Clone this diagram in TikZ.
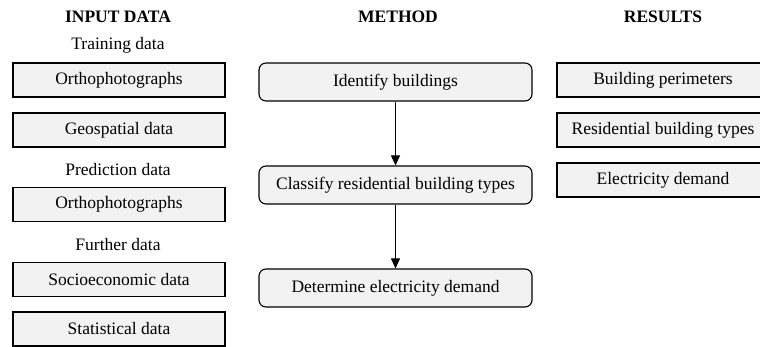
\documentclass[tikz,border=0pt]{standalone}
\usepackage{fontspec}
\setmainfont{Liberation Serif}
\usetikzlibrary{arrows.meta}
\tikzstyle{databox} = [rectangle, draw=black, line width=1.1pt, fill=gray!10, minimum width=212pt, minimum height=34pt, inner sep=0pt, text centered]
\tikzstyle{methodbox} = [rectangle, rounded corners=7pt, draw=black, line width=1.1pt, fill=gray!10, minimum width=273pt, minimum height=38pt, inner sep=0pt, text centered]
\tikzstyle{header} = [font=\fontsize{17.5}{20}\selectfont\bfseries]
\tikzstyle{arrow} = [line width=0.8pt,-{Triangle[length=10pt,width=9pt]}]

\begin{document}
\begin{tikzpicture}[x=1pt, y=1pt, font=\fontsize{17.5}{20}\selectfont]
	    \useasboundingbox (0,0) rectangle (760,-347);

	    % headers
	    \node[header] (hin) at (118,-17) {INPUT DATA};
	    \node[header] (hmeth) at (398,-17) {METHOD};
	    \node[header] (hres) at (663,-17) {RESULTS};

	    % input data
	    \node (train) at (118,-45) {Training data};
	    \node[databox] (ortho1) at (119,-80) {Orthophotographs};
	    \node[databox] (geo) at (119,-130) {Geospatial data};
	    \node (pred) at (118,-170) {Prediction data};
	    \node[databox] (ortho2) at (119,-204.5) {Orthophotographs};
	    \node (further) at (118,-245) {Further data};
	    \node[databox] (socio) at (119,-279.5) {Socioeconomic data};
	    \node[databox] (stat) at (119,-329) {Statistical data};

	    % method
	    \node[methodbox] (ident) at (395.5,-82) {Identify buildings};
	    \node[methodbox] (classify) at (395.5,-185) {Classify residential building types};
	    \node[methodbox] (elec) at (395.5,-288) {Determine electricity demand};

	    \draw[arrow] (ident) -- (classify);
	    \draw[arrow] (classify) -- (elec);

	    % results
	    \node[databox] (perim) at (663,-80) {Building perimeters};
	    \node[databox] (types) at (663,-130) {Residential building types};
	    \node[databox] (demand) at (663,-180) {Electricity demand};
\end{tikzpicture}
\end{document}
